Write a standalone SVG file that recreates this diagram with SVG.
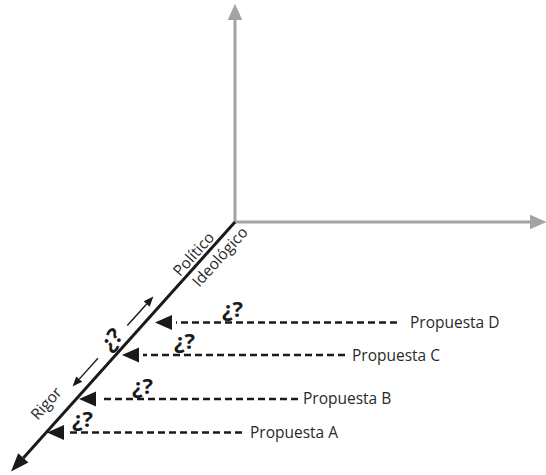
<svg xmlns="http://www.w3.org/2000/svg" width="546" height="475" viewBox="0 0 546 475">
<style>
.axis{stroke:#a3a3a3;stroke-width:3;fill:none}
.main{stroke:#1a1a1a;stroke-width:3;fill:none}
.small{stroke:#1a1a1a;stroke-width:1.4;fill:none}
.dash{stroke:#1a1a1a;stroke-width:2.5;stroke-dasharray:7 4;fill:none}
.lbl{font-family:"Open Sans","Noto Sans",sans-serif;font-size:15.5px;fill:#2a2a2a}
.q{font-family:"Open Sans","Noto Sans",sans-serif;font-size:22px;font-weight:bold;fill:#1a1a1a}
</style>
<defs>
<marker id="ga" markerUnits="userSpaceOnUse" markerWidth="20" markerHeight="20" refX="0" refY="0" viewBox="-2 -10 22 20" orient="auto" overflow="visible">
<polygon points="0,-8 18,0 0,8" fill="#a3a3a3"/>
</marker>
<marker id="ba" markerUnits="userSpaceOnUse" markerWidth="22" markerHeight="20" refX="0" refY="0" viewBox="-2 -10 24 20" orient="auto" overflow="visible">
<polygon points="0,-7.5 20,0 0,7.5" fill="#1a1a1a"/>
</marker>
<marker id="da" markerUnits="userSpaceOnUse" markerWidth="22" markerHeight="20" refX="0" refY="0" viewBox="0 -10 22 20" orient="auto" overflow="visible">
<polygon points="4,-7.5 21,0 4,7.5" fill="#1a1a1a"/>
</marker>
<marker id="sa" markerUnits="userSpaceOnUse" markerWidth="12" markerHeight="10" refX="0" refY="0" viewBox="-1 -5 12 10" orient="auto" overflow="visible">
<polygon points="0,-4 10,0 0,4" fill="#1a1a1a"/>
</marker>
</defs>
<g id="connectors">
<path class="axis" d="M235,222 V20" marker-end="url(#ga)"/>
<path class="axis" d="M235,222 H530" marker-end="url(#ga)"/>
<g transform="translate(235,222) rotate(-48.1)">
<path class="main" d="M0,0 H-317" marker-end="url(#ba)"/>
<path class="small" d="M-149,-11 H-120" marker-end="url(#sa)"/>
<path class="small" d="M-193,-11 H-221" marker-end="url(#sa)"/>
</g>
<path class="dash" d="M397,322.5 H176" marker-end="url(#da)"/>
<path class="dash" d="M345,355 H143" marker-end="url(#da)"/>
<path class="dash" d="M298,399 H100" marker-end="url(#da)"/>
<path class="dash" d="M242,432.5 H68" marker-end="url(#da)"/>
</g>
<g id="axis-labels" transform="translate(235,222) rotate(-48.1)">
<text id="politico" class="lbl" x="-51.6" y="-4" text-anchor="middle">Político</text>
<text id="ideologico" class="lbl" x="-36" y="17.5" text-anchor="middle">Ideológico</text>
<text id="rigor" class="lbl" x="-261" y="-14" text-anchor="middle">Rigor</text>
<text id="q-axis" class="q" x="-170" y="-6" text-anchor="middle">¿?</text>
</g>
<g id="propuesta-d"><text class="lbl" x="410" y="328">Propuesta D</text><text class="q" x="222" y="317">¿?</text></g>
<g id="propuesta-c"><text class="lbl" x="352" y="361">Propuesta C</text><text class="q" x="174" y="349">¿?</text></g>
<g id="propuesta-b"><text class="lbl" x="303" y="404">Propuesta B</text><text class="q" x="132" y="394">¿?</text></g>
<g id="propuesta-a"><text class="lbl" x="250" y="438">Propuesta A</text><text class="q" x="72" y="427">¿?</text></g>
</svg>
